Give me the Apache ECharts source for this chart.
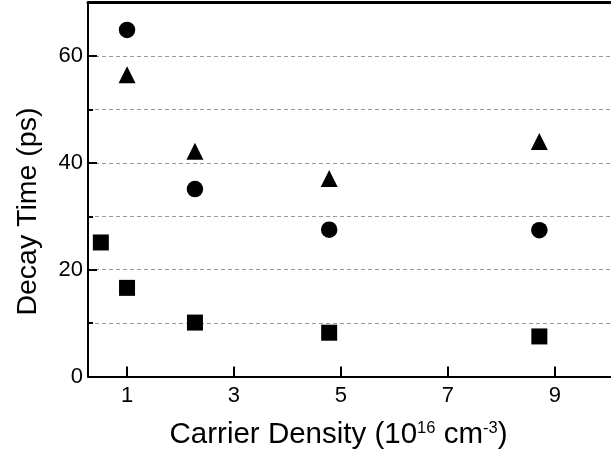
<!DOCTYPE html>
<html><head><meta charset="utf-8">
<script src="https://cdn.jsdelivr.net/npm/echarts@6/dist/echarts.min.js"></script>
<style>html,body{margin:0;padding:0;background:#fff}#c{width:611px;height:456px}</style>
</head><body><div id="c"></div>
<script>
const circleX = [1.0, 2.27, 4.78, 8.71];
const circleY = [64.9, 35.1, 27.5, 27.4];
const triangleX = [1.0, 2.27, 4.78, 8.71];
const triangleY = [56.5, 42.2, 37.1, 44.0];
const squareX = [0.51, 1.0, 2.27, 4.78, 8.71];
const squareY = [25.1, 16.6, 10.1, 8.2, 7.5];
const xTickValues = [1, 3, 5, 7, 9];
const yLabelValues = [0, 20, 40, 60];

const font = '"Liberation Sans", Arial, sans-serif';
const zip = (xs, ys) => xs.map((x, i) => [x, ys[i]]);

const chart = echarts.init(document.getElementById('c'), null, {renderer: 'canvas'});
chart.setOption({
  animation: false,
  backgroundColor: '#fff',
  grid: {left: 88, right: 0, top: 2.7, bottom: 79.5, containLabel: false},
  xAxis: [{
    type: 'value', min: 0.27, max: 10.05,
    position: 'bottom',
    axisLine: {show: true, onZero: false, lineStyle: {color: '#000', width: 2}},
    axisTick: {show: true, inside: true, length: 10, customValues: xTickValues, lineStyle: {color: '#000', width: 2}},
    axisLabel: {show: true, customValues: xTickValues, margin: 8, color: '#000', fontSize: 22, fontFamily: font},
    splitLine: {show: false},
    name: 'Carrier Density (10{sup|16} cm{sup|-3})',
    nameLocation: 'middle', nameGap: 43,
    nameTextStyle: {
      color: '#000', fontSize: 29.5, fontFamily: font, padding: [0, 22, 0, 0],
      rich: {sup: {fontSize: 16.5, fontFamily: font, color: '#000', verticalAlign: 'top'}}
    }
  }, {
    type: 'value', min: 0.27, max: 10.05, position: 'top',
    axisLine: {show: true, onZero: false, lineStyle: {color: '#000', width: 3}},
    axisTick: {show: false}, axisLabel: {show: false}, splitLine: {show: false}
  }],
  yAxis: [{
    type: 'value', min: 0, max: 70, interval: 10, position: 'left',
    axisLine: {show: true, onZero: false, lineStyle: {color: '#000', width: 2}},
    axisTick: {show: true, inside: true, length: 5, lineStyle: {color: '#000', width: 2}},
    axisLabel: {show: true, customValues: yLabelValues, margin: 5, color: '#000', fontSize: 22, fontFamily: font},
    splitLine: {show: true, lineStyle: {color: '#999', width: 1, type: [4, 3]}},
    name: 'Decay Time (ps)', nameLocation: 'middle', nameGap: 45,
    nameTextStyle: {color: '#000', fontSize: 28.5, fontFamily: font, padding: [0, 44, 0, 0]}
  }, {
    type: 'value', min: 0, max: 70, position: 'left', offset: 0,
    axisLine: {show: false, onZero: false},
    axisTick: {show: true, inside: true, length: 9, customValues: [20, 40, 60], lineStyle: {color: '#000', width: 2}},
    axisLabel: {show: false}, splitLine: {show: false}
  }],
  series: [
    {type: 'scatter', name: 'circle', symbol: 'circle', symbolSize: 16.5, data: zip(circleX, circleY), itemStyle: {color: '#000', opacity: 1}},
    {type: 'scatter', name: 'triangle', symbol: 'triangle', symbolSize: 17, data: zip(triangleX, triangleY), itemStyle: {color: '#000', opacity: 1}},
    {type: 'scatter', name: 'square', symbol: 'rect', symbolSize: 16, data: zip(squareX, squareY), itemStyle: {color: '#000', opacity: 1}}
  ]
});
</script></body></html>
